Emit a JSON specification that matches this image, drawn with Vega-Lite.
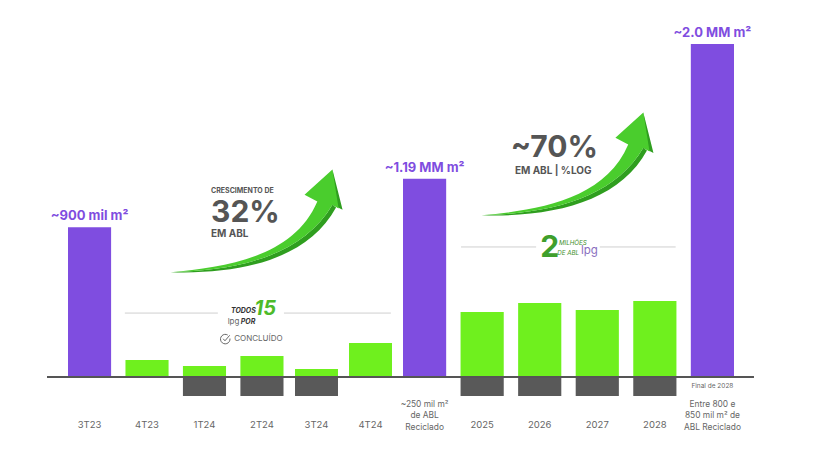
{
"$schema":"https://vega.github.io/schema/vega-lite/v6.json",
"width":816,"height":462,"padding":0,
"autosize":{"type":"fit","contains":"padding"},
"background":"white",
"config":{"view":{"stroke":null},"text":{"font":"Inter"},"axisX":{"labels":false,"ticks":false,"domain":false,"grid":false}},
"datasets":{
"barras":[
{"grupo":1,"periodo":"3T23","serie":"Total","valor":900,"destaque":"~900 mil m²"},
{"grupo":1,"periodo":"4T23","serie":"Adição","valor":102},
{"grupo":1,"periodo":"1T24","serie":"Adição","valor":66},
{"grupo":1,"periodo":"1T24","serie":"Reciclagem","valor":-114},
{"grupo":1,"periodo":"2T24","serie":"Adição","valor":126},
{"grupo":1,"periodo":"2T24","serie":"Reciclagem","valor":-114},
{"grupo":2,"periodo":"3T24","serie":"Adição","valor":48},
{"grupo":2,"periodo":"3T24","serie":"Reciclagem","valor":-114},
{"grupo":2,"periodo":"4T24","serie":"Adição","valor":204},
{"grupo":3,"periodo":"Meta 2024","serie":"Total","valor":1190,"destaque":"~1.19 MM m²"},
{"grupo":3,"periodo":"2025","serie":"Adição","valor":390},
{"grupo":3,"periodo":"2025","serie":"Reciclagem","valor":-114},
{"grupo":3,"periodo":"2026","serie":"Adição","valor":444},
{"grupo":3,"periodo":"2026","serie":"Reciclagem","valor":-114},
{"grupo":3,"periodo":"2027","serie":"Adição","valor":402},
{"grupo":3,"periodo":"2027","serie":"Reciclagem","valor":-114},
{"grupo":3,"periodo":"2028","serie":"Adição","valor":456},
{"grupo":3,"periodo":"2028","serie":"Reciclagem","valor":-114},
{"grupo":3,"periodo":"Meta 2028","serie":"Total","valor":2000,"destaque":"~2.0 MM m²"}
],
"rotulos":[
{"grupo":1,"periodo":"3T23","rotulo":"3T23","base":-318},
{"grupo":1,"periodo":"4T23","rotulo":"4T23","base":-318},
{"grupo":1,"periodo":"1T24","rotulo":"1T24","base":-318},
{"grupo":1,"periodo":"2T24","rotulo":"2T24","base":-318},
{"grupo":2,"periodo":"3T24","rotulo":"3T24","base":-318},
{"grupo":2,"periodo":"4T24","rotulo":"4T24","base":-318},
{"grupo":3,"periodo":"2025","rotulo":"2025","base":-318},
{"grupo":3,"periodo":"2026","rotulo":"2026","base":-318},
{"grupo":3,"periodo":"2027","rotulo":"2027","base":-318},
{"grupo":3,"periodo":"2028","rotulo":"2028","base":-318}
],
"notas":[
{"periodo":"Meta 2024","rotulo":"~250 mil m²\nde ABL\nReciclado","base":-192},
{"periodo":"Meta 2028","rotulo":"Entre 800 e\n850 mil m² de\nABL Reciclado","base":-192}
]
},
"resolve":{"scale":{"x":"independent"}},
"layer":[
{"data":{"name":"barras"},"transform":[{"filter":"datum.grupo==1"}],"mark":{"type":"bar"},"encoding":{"x":{"field":"periodo","type":"nominal","axis":{"title":null},"scale":{"type":"band","domain":["3T23","4T23","1T24","2T24"],"range":[68,283.5],"paddingInner":0.25,"paddingOuter":0}},"y":{"field":"valor","type":"quantitative","stack":null,"axis":null,"scale":{"domain":[-510.5,2264.3]}},"color":{"field":"serie","type":"nominal","legend":null,"scale":{"domain":["Total","Adição","Reciclagem"],"range":["#7f4de0","#6ff01e","#595959"]}}}},
{"data":{"name":"barras"},"transform":[{"filter":"datum.grupo==1 && datum.destaque"}],"mark":{"type":"text","fontSize":13,"fontWeight":"bold","color":"#7f4de0","dy":-11},"encoding":{"x":{"field":"periodo","type":"nominal","axis":{"title":null},"scale":{"type":"band","domain":["3T23","4T23","1T24","2T24"],"range":[68,283.5],"paddingInner":0.25,"paddingOuter":0}},"y":{"field":"valor","type":"quantitative","axis":null,"scale":{"domain":[-510.5,2264.3]}},"text":{"field":"destaque","type":"nominal"}}},
{"data":{"name":"rotulos"},"transform":[{"filter":"datum.grupo==1"}],"mark":{"type":"text","fontSize":9.5,"color":"#666666","baseline":"bottom"},"encoding":{"x":{"field":"periodo","type":"nominal","axis":{"title":null},"scale":{"type":"band","domain":["3T23","4T23","1T24","2T24"],"range":[68,283.5],"paddingInner":0.25,"paddingOuter":0}},"y":{"field":"base","type":"quantitative","axis":null,"scale":{"domain":[-510.5,2264.3]}},"text":{"field":"rotulo","type":"nominal"}}},
{"data":{"name":"barras"},"transform":[{"filter":"datum.grupo==2"}],"mark":{"type":"bar"},"encoding":{"x":{"field":"periodo","type":"nominal","axis":{"title":null},"scale":{"type":"band","domain":["3T24","4T24"],"range":[295,392],"paddingInner":0.204,"paddingOuter":0}},"y":{"field":"valor","type":"quantitative","stack":null,"axis":null,"scale":{"domain":[-510.5,2264.3]}},"color":{"field":"serie","type":"nominal","legend":null}}},
{"data":{"name":"rotulos"},"transform":[{"filter":"datum.grupo==2"}],"mark":{"type":"text","fontSize":9.5,"color":"#666666","baseline":"bottom"},"encoding":{"x":{"field":"periodo","type":"nominal","axis":{"title":null},"scale":{"type":"band","domain":["3T24","4T24"],"range":[295,392],"paddingInner":0.204,"paddingOuter":0}},"y":{"field":"base","type":"quantitative","axis":null,"scale":{"domain":[-510.5,2264.3]}},"text":{"field":"rotulo","type":"nominal"}}},
{"data":{"name":"barras"},"transform":[{"filter":"datum.grupo==3"}],"mark":{"type":"bar"},"encoding":{"x":{"field":"periodo","type":"nominal","axis":{"title":null},"scale":{"type":"band","domain":["Meta 2024","2025","2026","2027","2028","Meta 2028"],"range":[403,734],"paddingInner":0.25,"paddingOuter":0}},"y":{"field":"valor","type":"quantitative","stack":null,"axis":null,"scale":{"domain":[-510.5,2264.3]}},"color":{"field":"serie","type":"nominal","legend":null}}},
{"data":{"name":"barras"},"transform":[{"filter":"datum.grupo==3 && datum.destaque"}],"mark":{"type":"text","fontSize":13,"fontWeight":"bold","color":"#7f4de0","dy":-11},"encoding":{"x":{"field":"periodo","type":"nominal","axis":{"title":null},"scale":{"type":"band","domain":["Meta 2024","2025","2026","2027","2028","Meta 2028"],"range":[403,734],"paddingInner":0.25,"paddingOuter":0}},"y":{"field":"valor","type":"quantitative","axis":null,"scale":{"domain":[-510.5,2264.3]}},"text":{"field":"destaque","type":"nominal"}}},
{"data":{"name":"rotulos"},"transform":[{"filter":"datum.grupo==3"}],"mark":{"type":"text","fontSize":9.5,"color":"#666666","baseline":"bottom"},"encoding":{"x":{"field":"periodo","type":"nominal","axis":{"title":null},"scale":{"type":"band","domain":["Meta 2024","2025","2026","2027","2028","Meta 2028"],"range":[403,734],"paddingInner":0.25,"paddingOuter":0}},"y":{"field":"base","type":"quantitative","axis":null,"scale":{"domain":[-510.5,2264.3]}},"text":{"field":"rotulo","type":"nominal"}}},
{"data":{"name":"notas"},"mark":{"type":"text","fontSize":8.4,"color":"#666666","baseline":"bottom","lineBreak":"\n","lineHeight":11.5},"encoding":{"x":{"field":"periodo","type":"nominal","axis":{"title":null},"scale":{"type":"band","domain":["Meta 2024","2025","2026","2027","2028","Meta 2028"],"range":[403,734],"paddingInner":0.25,"paddingOuter":0}},"y":{"field":"base","type":"quantitative","axis":null,"scale":{"domain":[-510.5,2264.3]}},"text":{"field":"rotulo","type":"nominal"}}},
{"data":{"values":[{"periodo":"Meta 2028","nota":"Final de 2028","base":-54}]},"mark":{"type":"text","fontSize":6.5,"color":"#666666"},"encoding":{"x":{"field":"periodo","type":"nominal","axis":{"title":null},"scale":{"type":"band","domain":["Meta 2024","2025","2026","2027","2028","Meta 2028"],"range":[403,734],"paddingInner":0.25,"paddingOuter":0}},"y":{"field":"base","type":"quantitative","axis":null,"scale":{"domain":[-510.5,2264.3]}},"text":{"field":"nota","type":"nominal"}}},
{"data":{"values":[
{"xp":5.76,"xp2":92.4,"v":0}
]},"mark":{"type":"rule","color":"#555555","strokeWidth":2},"encoding":{"x":{"field":"xp","type":"quantitative","axis":{"title":null},"scale":{"domain":[0,100],"nice":false,"zero":false}},"x2":{"field":"xp2"},"y":{"field":"v","type":"quantitative","axis":null,"scale":{"domain":[-510.5,2264.3]}}}},
{"data":{"values":[
{"xp":15.3,"xp2":26.7,"v":384},{"xp":34.8,"xp2":47.9,"v":384},
{"xp":56.5,"xp2":65.7,"v":781},{"xp":73.5,"xp2":82.8,"v":781}
]},"mark":{"type":"rule","color":"#cfcfcf","strokeWidth":1},"encoding":{"x":{"field":"xp","type":"quantitative","axis":{"title":null},"scale":{"domain":[0,100],"nice":false,"zero":false}},"x2":{"field":"xp2"},"y":{"field":"v","type":"quantitative","axis":null,"scale":{"domain":[-510.5,2264.3]}}}},
{"data":{"values":[{"xp":31.5,"v":925},{"xp":69.6,"v":1267}]},"mark":{"type":"point","filled":true,"opacity":1,"size":29500,"color":"#2f9e1f","strokeWidth":0,"shape":"M-1.004 .573C-.161 .6 .6 .41 .92 -.18L.878 -.212 .878 -.624 .996 -.153 .878 -.212C.545 .357 -.161 .553 -1.004 .573Z"},"encoding":{"x":{"field":"xp","type":"quantitative","axis":{"title":null},"scale":{"domain":[0,100],"nice":false,"zero":false}},"y":{"field":"v","type":"quantitative","axis":null,"scale":{"domain":[-510.5,2264.3]}}}},
{"data":{"values":[{"xp":31.5,"v":925},{"xp":69.6,"v":1267}]},"mark":{"type":"point","filled":true,"opacity":1,"size":29500,"color":"#4acd2d","strokeWidth":0,"shape":"M-1.004 .573C-.357 .514 .427 .396 .702 -.251L.553 -.329 .878 -.624 .95 -.17 .878 -.212C.545 .357 -.161 .553 -1.004 .573Z"},"encoding":{"x":{"field":"xp","type":"quantitative","axis":{"title":null},"scale":{"domain":[0,100],"nice":false,"zero":false}},"y":{"field":"v","type":"quantitative","axis":null,"scale":{"domain":[-510.5,2264.3]}}}},
{"data":{"values":[{"xp":25.86,"v":1117,"t":"CRESCIMENTO DE"}]},"mark":{"type":"text","fontSize":7,"fontWeight":"bold","color":"#555555","align":"left"},"encoding":{"x":{"field":"xp","type":"quantitative","axis":{"title":null},"scale":{"domain":[0,100],"nice":false,"zero":false}},"y":{"field":"v","type":"quantitative","axis":null,"scale":{"domain":[-510.5,2264.3]}},"text":{"field":"t","type":"nominal"}}},
{"data":{"values":[{"xp":25.86,"v":985,"t":"32%"},{"xp":62.6,"v":1375,"t":"~70%"}]},"mark":{"type":"text","fontSize":30,"fontWeight":"bold","color":"#555555","align":"left"},"encoding":{"x":{"field":"xp","type":"quantitative","axis":{"title":null},"scale":{"domain":[0,100],"nice":false,"zero":false}},"y":{"field":"v","type":"quantitative","axis":null,"scale":{"domain":[-510.5,2264.3]}},"text":{"field":"t","type":"nominal"}}},
{"data":{"values":[{"xp":25.86,"v":859,"t":"EM ABL"},{"xp":63.1,"v":1237,"t":"EM ABL | %LOG"}]},"mark":{"type":"text","fontSize":10,"fontWeight":"bold","color":"#555555","align":"left"},"encoding":{"x":{"field":"xp","type":"quantitative","axis":{"title":null},"scale":{"domain":[0,100],"nice":false,"zero":false}},"y":{"field":"v","type":"quantitative","axis":null,"scale":{"domain":[-510.5,2264.3]}},"text":{"field":"t","type":"nominal"}}},
{"data":{"values":[{"xp":28.3,"v":396,"t":"TODOS"},{"xp":29.5,"v":330,"t":"POR"}]},"mark":{"type":"text","fontSize":7,"fontWeight":"bold","fontStyle":"italic","color":"#333333","align":"left"},"encoding":{"x":{"field":"xp","type":"quantitative","axis":{"title":null},"scale":{"domain":[0,100],"nice":false,"zero":false}},"y":{"field":"v","type":"quantitative","axis":null,"scale":{"domain":[-510.5,2264.3]}},"text":{"field":"t","type":"nominal"}}},
{"data":{"values":[{"xp":27.9,"v":330,"t":"lpg"}]},"mark":{"type":"text","fontSize":8,"color":"#666666","align":"left"},"encoding":{"x":{"field":"xp","type":"quantitative","axis":{"title":null},"scale":{"domain":[0,100],"nice":false,"zero":false}},"y":{"field":"v","type":"quantitative","axis":null,"scale":{"domain":[-510.5,2264.3]}},"text":{"field":"t","type":"nominal"}}},
{"data":{"values":[{"xp":31.2,"v":408,"t":"15"}]},"mark":{"type":"text","fontSize":20,"fontWeight":"bold","fontStyle":"italic","color":"#4dbb2a","align":"left"},"encoding":{"x":{"field":"xp","type":"quantitative","axis":{"title":null},"scale":{"domain":[0,100],"nice":false,"zero":false}},"y":{"field":"v","type":"quantitative","axis":null,"scale":{"domain":[-510.5,2264.3]}},"text":{"field":"t","type":"nominal"}}},
{"data":{"values":[{"xp":28.7,"v":228,"t":"CONCLUÍDO"}]},"mark":{"type":"text","fontSize":8,"color":"#666666","align":"left"},"encoding":{"x":{"field":"xp","type":"quantitative","axis":{"title":null},"scale":{"domain":[0,100],"nice":false,"zero":false}},"y":{"field":"v","type":"quantitative","axis":null,"scale":{"domain":[-510.5,2264.3]}},"text":{"field":"t","type":"nominal"}}},
{"data":{"values":[{"xp":27.6,"v":228}]},"mark":{"type":"point","size":100,"filled":false,"opacity":1,"color":"#666666","strokeWidth":1,"shape":"M.95 -.1A.95 .95 0 1 1 .5 -.8M-.4 -.05L-.05 .35 .9 -.75"},"encoding":{"x":{"field":"xp","type":"quantitative","axis":{"title":null},"scale":{"domain":[0,100],"nice":false,"zero":false}},"y":{"field":"v","type":"quantitative","axis":null,"scale":{"domain":[-510.5,2264.3]}}}},
{"data":{"values":[{"xp":66.2,"v":775,"t":"2"}]},"mark":{"type":"text","fontSize":30,"fontWeight":"bold","color":"#3f9f2c","align":"left"},"encoding":{"x":{"field":"xp","type":"quantitative","axis":{"title":null},"scale":{"domain":[0,100],"nice":false,"zero":false}},"y":{"field":"v","type":"quantitative","axis":null,"scale":{"domain":[-510.5,2264.3]}},"text":{"field":"t","type":"nominal"}}},
{"data":{"values":[{"xp":68.5,"v":805,"t":"MILHÕES"},{"xp":68.3,"v":745,"t":"DE ABL"}]},"mark":{"type":"text","fontSize":6.2,"fontStyle":"italic","color":"#3f8f2c","align":"left"},"encoding":{"x":{"field":"xp","type":"quantitative","axis":{"title":null},"scale":{"domain":[0,100],"nice":false,"zero":false}},"y":{"field":"v","type":"quantitative","axis":null,"scale":{"domain":[-510.5,2264.3]}},"text":{"field":"t","type":"nominal"}}},
{"data":{"values":[{"xp":71.2,"v":757,"t":"lpg"}]},"mark":{"type":"text","fontSize":11.5,"color":"#8a6fc0","align":"left"},"encoding":{"x":{"field":"xp","type":"quantitative","axis":{"title":null},"scale":{"domain":[0,100],"nice":false,"zero":false}},"y":{"field":"v","type":"quantitative","axis":null,"scale":{"domain":[-510.5,2264.3]}},"text":{"field":"t","type":"nominal"}}}
]
}
